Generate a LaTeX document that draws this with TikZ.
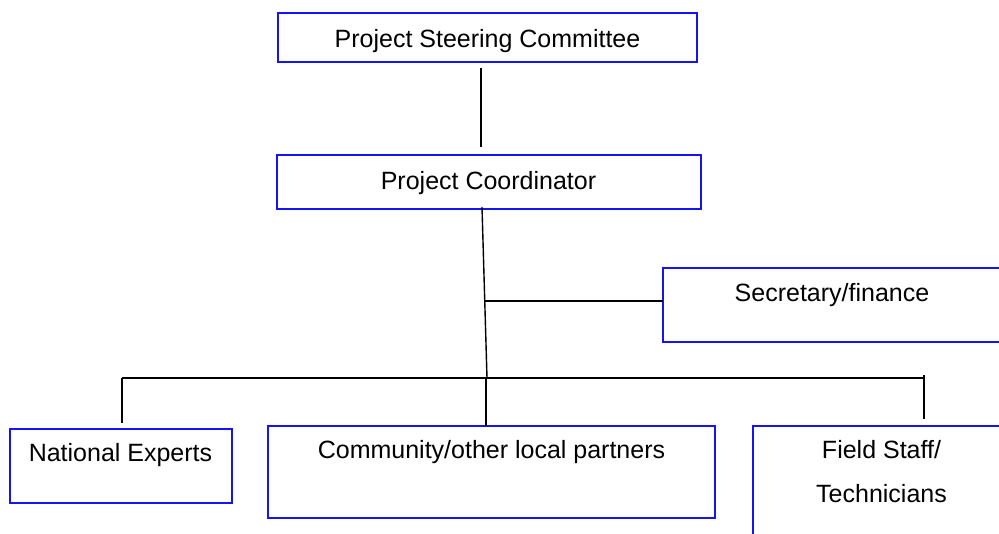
\documentclass[tikz,border=0pt]{standalone}
\usepackage{fontspec}
\setmainfont{Liberation Sans}
\definecolor{boxblue}{RGB}{20,20,245}
\begin{document}
\begin{tikzpicture}[x=1pt,y=-1pt,
  box/.style={draw=boxblue, line width=2pt, rectangle, inner sep=0pt, outer sep=0pt},
  lbl/.style={font=\fontsize{25}{29}\selectfont, inner sep=0pt, anchor=base},
  link/.style={draw=black, line width=1.4pt}]
\useasboundingbox (0,0) rectangle (999,533);
\clip (0,0) rectangle (999,533);

% organisation boxes
\node[box, minimum width=419pt, minimum height=49pt] (psc) at (487.5,37.5) {};
\node[box, minimum width=424pt, minimum height=54pt] (pc)  at (489,182) {};
\node[box, minimum width=347pt, minimum height=74pt] (sec) at (836.5,305) {};
\node[box, minimum width=222pt, minimum height=74pt] (ne)  at (121,466) {};
\node[box, minimum width=447pt, minimum height=92pt] (com) at (491.5,472) {};
\node[box, minimum width=257pt, minimum height=119pt] (fs) at (881.5,485.5) {};

% box texts
\node[lbl] (psc-t) at (487.5,47) {Project Steering Committee};
\node[lbl] (pc-t)  at (488.5,189) {Project Coordinator};
\node[lbl] (sec-t) at (832,301) {Secretary/finance};
\node[lbl] (ne-t)  at (120.5,461) {National Experts};
\node[lbl] (com-t) at (491.5,458) {Community/other local partners};
\node[lbl] (fs-t1) at (881.5,458) {Field Staff/};
\node[lbl] (fs-t2) at (881.5,502) {Technicians};

% connector end points
\coordinate (a1) at (481,68);
\coordinate (a2) at (481,147);
\coordinate (b1) at (482,207);
\coordinate (b2) at (487,378);
\coordinate (s1) at (485,301);
\coordinate (s2) at (663,301);
\coordinate (busL) at (122,378);
\coordinate (busR) at (924,378);
\coordinate (neTop) at (122,423);
\coordinate (comTop) at (486,378);
\coordinate (fsTop) at (924,375);
\coordinate (fsEnd) at (924,419);

% connectors
\draw[link] (a1) -- (a2);
\draw[link] (b1) -- (b2);
\draw[link] (s1) -- (s2);
\draw[link] (busL) -- (busR);
\draw[link] (busL) -- (neTop);
\draw[link] (comTop) -- (com.north -| comTop);
\draw[link] (fsTop) -- (fsEnd);
\end{tikzpicture}
\end{document}
